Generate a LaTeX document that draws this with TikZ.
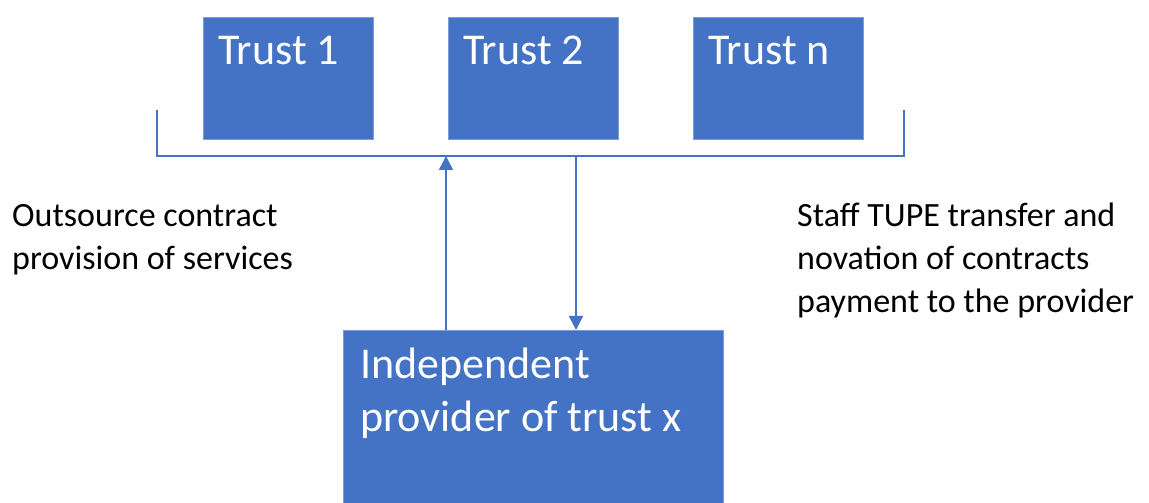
\documentclass[tikz,border=0pt]{standalone}
\usepackage{fontspec}
\setmainfont{Carlito}
\usetikzlibrary{positioning,arrows.meta}
\definecolor{office}{HTML}{4472C4}

\begin{document}
\begin{tikzpicture}[x=1pt, y=1pt,
	box/.style={fill=office, draw=office!70!white, line width=1pt, inner sep=0pt},
	boxtext/.style={text=white, anchor=base west, inner sep=0pt, align=left},
	note/.style={anchor=base west, inner sep=0pt, align=left, font=\fontsize{34}{43}\selectfont},
	link/.style={draw=office, line width=1.5pt},
	tip/.style={-{Triangle[width=14pt, length=14pt]}}]
	\useasboundingbox (0,0) rectangle (1149,503);

	% the trusts across the top
	\foreach \x/\n in {203/1, 448/2, 693/n}{
		\node[box, anchor=north west, minimum width=170, minimum height=122] (trust\n) at (\x,486) {};
		\node[boxtext, font=\fontsize{44}{52}\selectfont] at (\x+15,438) {Trust \n};
	}

	% bracket under the trusts
	\coordinate (bl) at (157,393);
	\coordinate (br) at (904,393);
	\draw[link] (bl) -- (bl |- 0,347) -- (br |- 0,347) -- (br);

	% provider box, text sits on the baseline of its last line
	\node[box, anchor=north west, minimum width=380, minimum height=173] (provider) at (343,173) {};
	\node[boxtext, font=\fontsize{44}{53}\selectfont] at (360,71) {Independent\\provider of trust x};

	% arrows up and down
	\coordinate (up) at (446,347);
	\coordinate (down) at (576,347);
	\draw[link, tip] (up |- provider.north) -- (up);
	\draw[link, tip] (down) -- (down |- provider.north);

	% side notes
	\node[note] (outsource) at (12,233) {Outsource contract\\provision of services};
	\node[note] (tupe) at (797,190) {Staff TUPE transfer and\\novation of contracts\\payment to the provider};
\end{tikzpicture}
\end{document}
